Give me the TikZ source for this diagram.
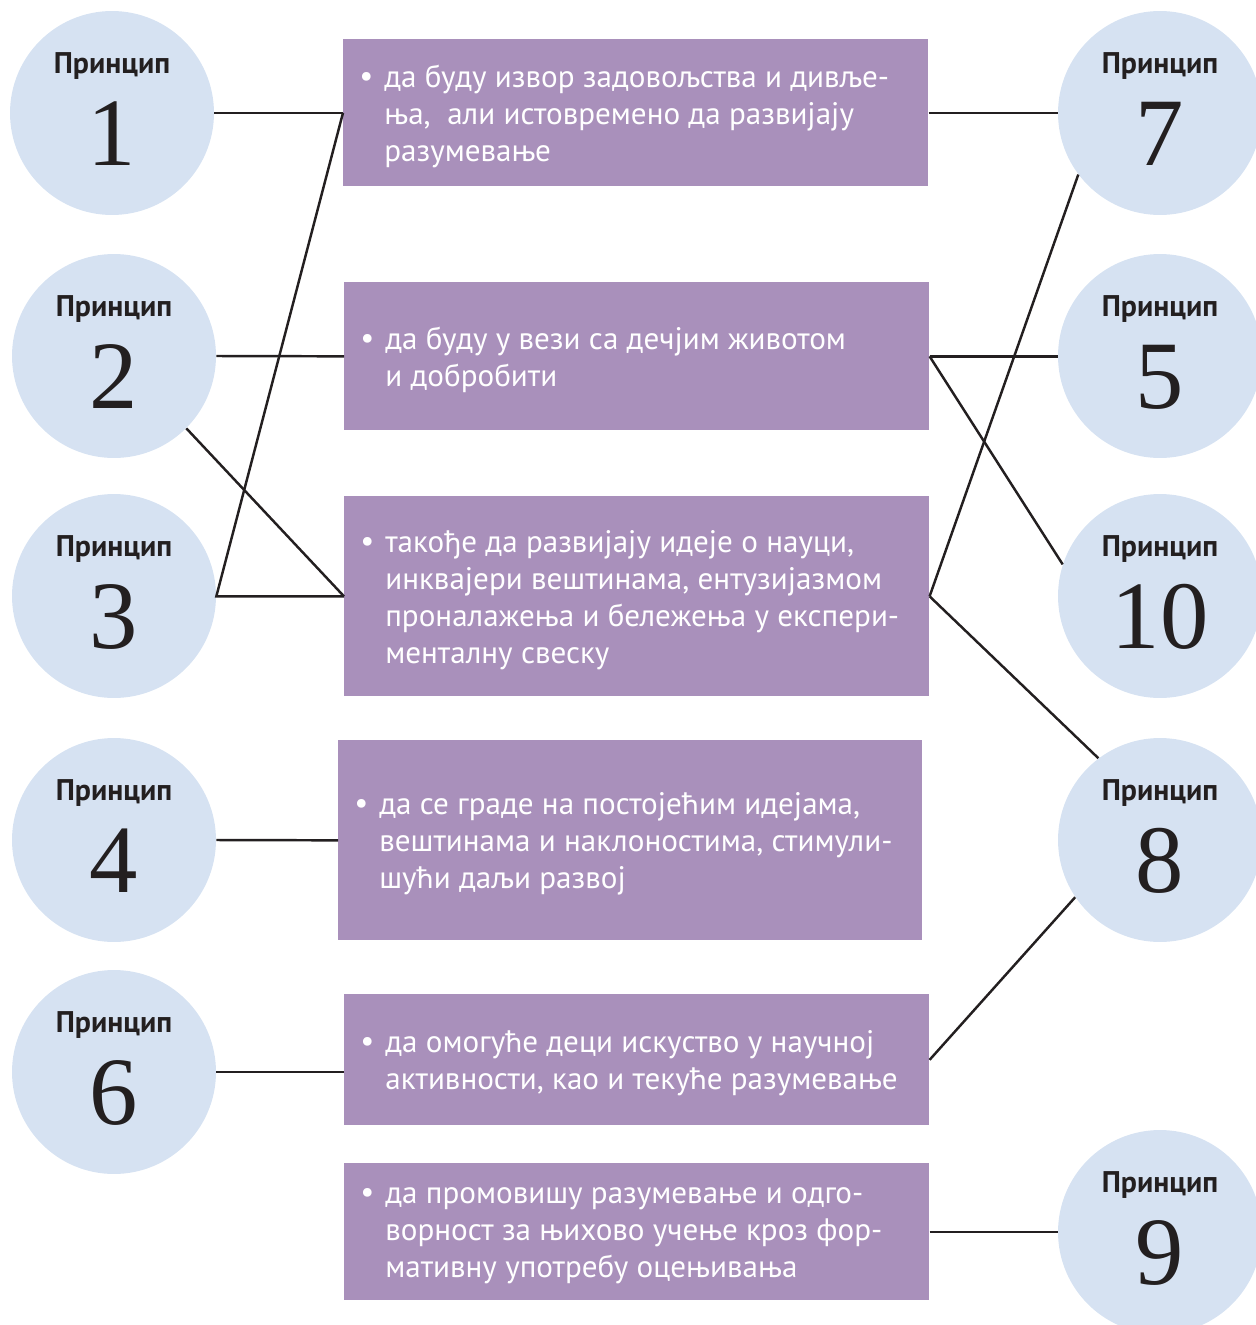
\documentclass[tikz,border=0pt]{standalone}
\usepackage{fontspec}
\newfontfamily\ptsans{PT Sans}
\newfontfamily\numfont{Liberation Serif}
\definecolor{circ}{RGB}{214,226,242}
\definecolor{boxc}{RGB}{169,144,187}
\definecolor{ink}{RGB}{35,31,32}
\newcommand\princ[4]{%
  \node[pcirc] (#1) at (#2,#3) {};
  \node[plabel] (#1l) at (#2,#3-47) {Принцип};
  \node[pnum] (#1n) at (#2,#3+21) {#4};
}
\newcommand\btext[1]{%
  \makebox[0.5cm][l]{\raisebox{0.05ex}{•}}\parbox[t]{10.5cm}{\raggedright #1}}
\tikzset{
  pcirc/.style={circle, fill=circ, minimum size=4.08cm, inner sep=0pt},
  plabel/.style={font=\ptsans\bfseries\fontsize{17}{18}\selectfont, text=ink, inner sep=0pt},
  pnum/.style={font=\numfont\fontsize{55}{60}\selectfont, text=ink, inner sep=0pt},
  pbox/.style={fill=boxc, anchor=north west, inner sep=0pt},
  ptext/.style={anchor=west, text=white, inner sep=0pt, font=\ptsans\fontsize{17.7}{21}\selectfont},
  conn/.style={draw=ink, line width=1.4pt},
}
\begin{document}
\begin{tikzpicture}[x=0.02cm,y=-0.02cm]
\useasboundingbox (0,0) rectangle (1255,1325);
% circles
\princ{c1}{112}{113}{1}
\princ{c2}{114}{356}{2}
\princ{c3}{114}{596}{3}
\princ{c4}{114}{840}{4}
\princ{c6}{114}{1072}{6}
\princ{c7}{1160}{113}{7}
\princ{c5}{1160}{356}{5}
\princ{c10}{1160}{596}{10}
\princ{c8}{1160}{840}{8}
\princ{c9}{1160}{1232}{9}
% boxes
\node[pbox, minimum width=11.70cm, minimum height=2.94cm] (b1) at (343,39) {};
\node[pbox, minimum width=11.70cm, minimum height=2.96cm] (b2) at (344,282) {};
\node[pbox, minimum width=11.70cm, minimum height=4.00cm] (b3) at (344,496) {};
\node[pbox, minimum width=11.68cm, minimum height=4.00cm] (b4) at (338,740) {};
\node[pbox, minimum width=11.70cm, minimum height=2.62cm] (b5) at (344,994) {};
\node[pbox, minimum width=11.70cm, minimum height=2.74cm] (b6) at (344,1163) {};
% texts
\node[ptext] (t1) at ([xshift=0.32cm,yshift=-0.07cm]b1.west)
  {\btext{да буду извор задовољства и дивље-\\ња,\ \ али истовремено да развијају\\разумевање}};
\node[ptext] (t2) at ([xshift=0.32cm,yshift=-0.07cm]b2.west)
  {\btext{да буду у вези са дечјим животом\\и добробити}};
\node[ptext] (t3) at ([xshift=0.32cm,yshift=-0.07cm]b3.west)
  {\btext{такође да развијају идеје о науци,\\инквајери вештинама, ентузијазмом\\проналажења и бележења у експери-\\менталну свеску}};
\node[ptext] (t4) at ([xshift=0.32cm,yshift=-0.07cm]b4.west)
  {\btext{да се граде на постојећим идејама,\\вештинама и наклоностима, стимули-\\шући даљи развој}};
\node[ptext] (t5) at ([xshift=0.32cm,yshift=-0.07cm]b5.west)
  {\btext{да омогуће деци искуство у научној\\активности, као и текуће разумевање}};
\node[ptext] (t6) at ([xshift=0.32cm,yshift=-0.07cm]b6.west)
  {\btext{да промовишу разумевање и одго-\\ворност за њихово учење кроз фор-\\мативну употребу оцењивања}};
% left connectors
\draw[conn] (b1.west -| c1.east) -- (b1.west);
\draw[conn] (b1.west) -- (b3.west -| c3.east) -- (b3.west);
\draw[conn] (c2.east) -- (b2.west);
\draw[conn] (c2.-45) -- (b3.west);
\draw[conn] (c4.east) -- (b4.west);
\draw[conn] (c6.east) -- (c6.east -| b5.west);
% right connectors
\draw[conn] (b1.east) -- (b1.east -| c7.west);
\draw[conn] (b3.east) -- (c7.217.7);
\draw[conn] (b2.east) -- (b2.east -| c5.west);
\draw[conn] (b2.east) -- (c10.162.3);
\draw[conn] (b3.east) -- (c8.127.2);
\draw[conn] (b5.east) -- (c8.214.2);
\draw[conn] (b6.east) -- (b6.east -| c9.west);
\end{tikzpicture}
\end{document}
